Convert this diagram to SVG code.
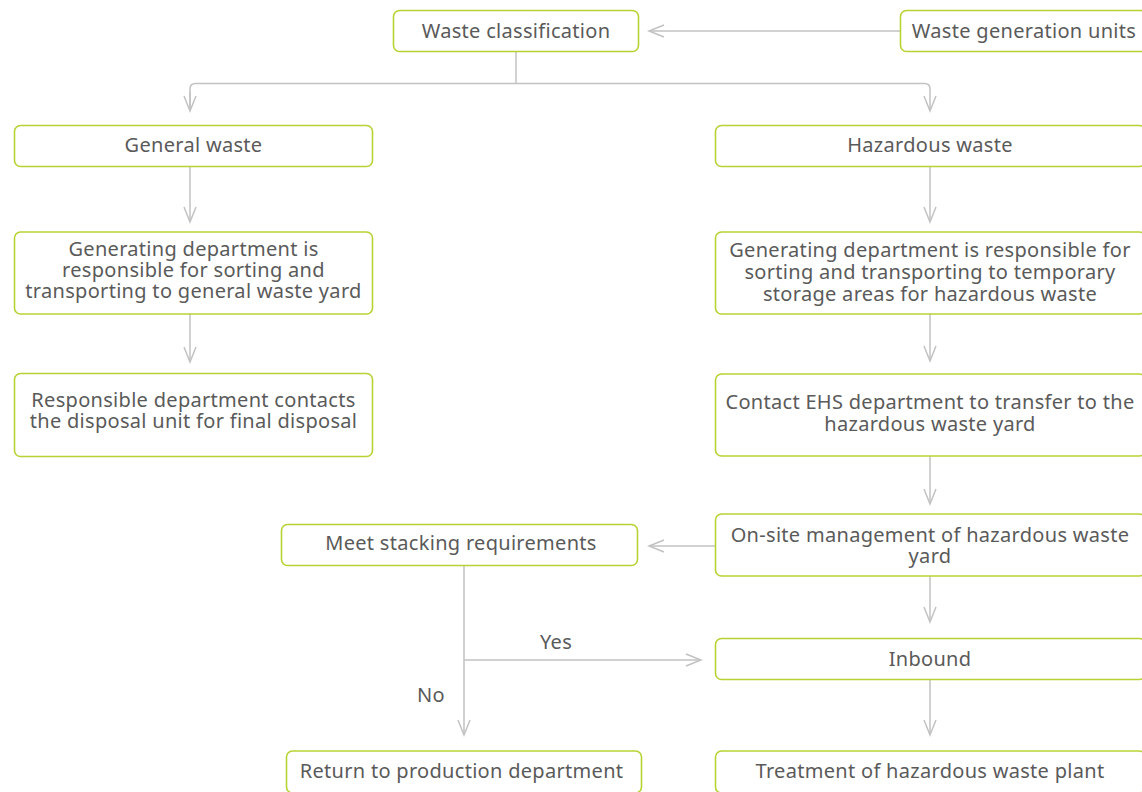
<svg xmlns="http://www.w3.org/2000/svg" width="1142" height="792" viewBox="0 0 1142 792">
<style>
.box{fill:#ffffff;stroke:#b6d333;stroke-width:1.6}
.t{font-family:"Noto Sans","Open Sans","Liberation Sans",sans-serif;font-size:20px;letter-spacing:0.3px;fill:#5a5a5a;text-anchor:middle}
.c{fill:none;stroke:#c2c2c2;stroke-width:1.5}
</style>
<defs>
<marker id="ah" viewBox="-17 -8 19 16" refX="0" refY="0" markerWidth="19" markerHeight="16" markerUnits="userSpaceOnUse" orient="auto">
<path d="M-15,-6 L0,0 L-15,6" fill="none" stroke="#c2c2c2" stroke-width="1.5"/>
</marker>
</defs>
<rect width="1142" height="792" fill="#ffffff"/>
<g id="connectors">
<path class="c" d="M900,31 H649" marker-end="url(#ah)"/>
<path class="c" d="M516,51.5 V83.5"/>
<path class="c" d="M190,111 V89 Q190,83.5 195.5,83.5 H924.5 Q930,83.5 930,89 V111" marker-end="url(#ah)"/>
<path class="c" d="M190,92 V111" marker-end="url(#ah)"/>
<path class="c" d="M190,167 V222" marker-end="url(#ah)"/>
<path class="c" d="M190,314 V362" marker-end="url(#ah)"/>
<path class="c" d="M930,167 V222" marker-end="url(#ah)"/>
<path class="c" d="M930,314 V361" marker-end="url(#ah)"/>
<path class="c" d="M930,456 V504" marker-end="url(#ah)"/>
<path class="c" d="M715,546 H649" marker-end="url(#ah)"/>
<path class="c" d="M930,576 V622" marker-end="url(#ah)"/>
<path class="c" d="M930,679 V735" marker-end="url(#ah)"/>
<path class="c" d="M464,566 V735" marker-end="url(#ah)"/>
<path class="c" d="M464,660 H701" marker-end="url(#ah)"/>
<text class="t" x="556" y="649">Yes</text>
<text class="t" x="431" y="702">No</text>
</g>
<g id="n1"><rect class="box" x="393.5" y="10.5" width="245" height="41" rx="6"/><text class="t" x="516" y="37.5">Waste classification</text></g>
<g id="n2"><rect class="box" x="900.5" y="10.5" width="246" height="41" rx="6"/><text class="t" x="1024" y="37.5">Waste generation units</text></g>
<g id="n3"><rect class="box" x="14.5" y="125.5" width="358" height="41" rx="6"/><text class="t" x="193.5" y="151.5">General waste</text></g>
<g id="n4"><rect class="box" x="715.5" y="125.5" width="430" height="41" rx="6"/><text class="t" x="930" y="151.5">Hazardous waste</text></g>
<g id="n5"><rect class="box" x="14.5" y="232" width="358" height="82" rx="6"/><text class="t" x="193.5" y="256">Generating department is</text><text class="t" x="193.5" y="277">responsible for sorting and</text><text class="t" x="193.5" y="298">transporting to general waste yard</text></g>
<g id="n6"><rect class="box" x="715.5" y="232" width="430" height="82" rx="6"/><text class="t" x="930" y="257">Generating department is responsible for</text><text class="t" x="930" y="279">sorting and transporting to temporary</text><text class="t" x="930" y="300.5">storage areas for hazardous waste</text></g>
<g id="n7"><rect class="box" x="14.5" y="373.5" width="358" height="83" rx="6"/><text class="t" x="193.5" y="407">Responsible department contacts</text><text class="t" x="193.5" y="428">the disposal unit for final disposal</text></g>
<g id="n8"><rect class="box" x="715.5" y="374" width="430" height="82" rx="6"/><text class="t" x="930" y="409">Contact EHS department to transfer to the</text><text class="t" x="930" y="430.5">hazardous waste yard</text></g>
<g id="n9"><rect class="box" x="715.5" y="514" width="430" height="62" rx="6"/><text class="t" x="930" y="541.5">On-site management of hazardous waste</text><text class="t" x="930" y="562.5">yard</text></g>
<g id="n10"><rect class="box" x="281.5" y="524.5" width="356" height="41" rx="6"/><text class="t" x="461" y="550">Meet stacking requirements</text></g>
<g id="n11"><rect class="box" x="715.5" y="638.5" width="430" height="41" rx="6"/><text class="t" x="930" y="666">Inbound</text></g>
<g id="n12"><rect class="box" x="286.5" y="751" width="355" height="42" rx="6"/><text class="t" x="461.5" y="778">Return to production department</text></g>
<g id="n13"><rect class="box" x="715.5" y="751" width="430" height="42" rx="6"/><text class="t" x="930" y="778">Treatment of hazardous waste plant</text></g>
</svg>
